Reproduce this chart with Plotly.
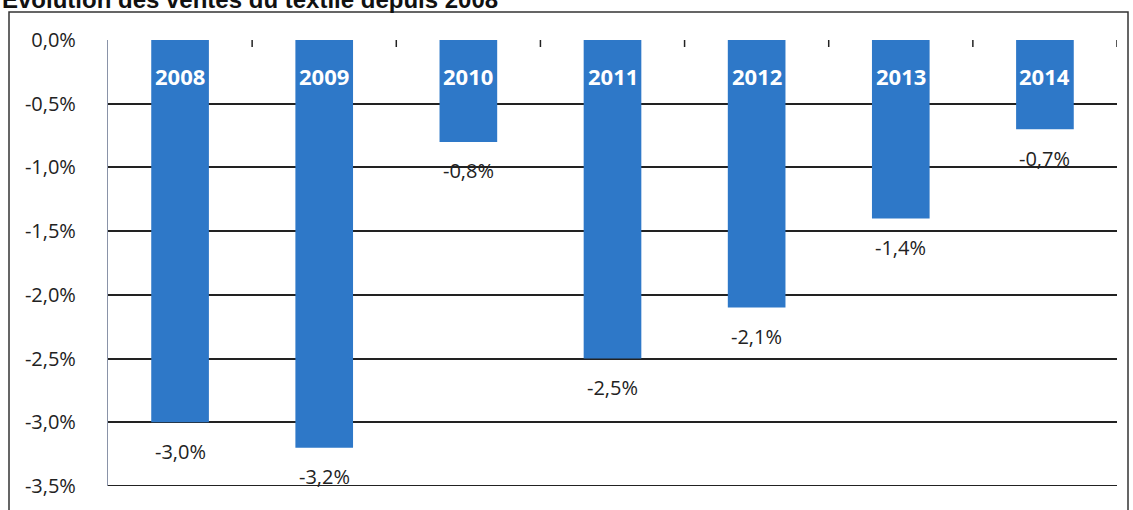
import plotly.graph_objects as go

years = ["2008", "2009", "2010", "2011", "2012", "2013", "2014"]
values = [-3.0, -3.2, -0.8, -2.5, -2.1, -1.4, -0.7]
value_labels = ["-3,0%", "-3,2%", "-0,8%", "-2,5%", "-2,1%", "-1,4%", "-0,7%"]
tick_vals = [0.0, -0.5, -1.0, -1.5, -2.0, -2.5, -3.0, -3.5]
tick_text = ["0,0%", "-0,5%", "-1,0%", "-1,5%", "-2,0%", "-2,5%", "-3,0%", "-3,5%"]
title = "Evolution des ventes du textile depuis 2008"

W, H = 1133, 510
L, R, T, B = 108, 16, 40, 24
ph = H - T - B

blue = "#2E78C8"
font_fam = "Open Sans, Liberation Sans, Arial, sans-serif"

fig = go.Figure()
fig.add_trace(go.Bar(x=years, y=values, marker=dict(color=blue, line=dict(width=0)),
                     width=0.4, hoverinfo="skip"))

annotations = []
for i, (yr, v, lab) in enumerate(zip(years, values, value_labels)):
    annotations.append(dict(x=i, y=0, xref="x", yref="y", text="<b>" + yr + "</b>", showarrow=False,
                            yanchor="middle", yshift=-36,
                            font=dict(family=font_fam, size=22, color="white")))
    annotations.append(dict(x=i, y=v, xref="x", yref="y", text=lab, showarrow=False,
                            yanchor="middle", yshift=-29,
                            font=dict(family=font_fam, size=20, color="#222222")))

annotations.append(dict(x=-L / (W - L - R), y=1 + (T + 1) / ph, xref="paper", yref="paper",
                        xanchor="left", yanchor="middle", text="<b>" + title + "</b>", showarrow=False,
                        font=dict(family="Liberation Sans, Arial, sans-serif", size=24, color="#111111")))

def px_x(p):
    return (p - L) / (W - L - R)

def px_y(p):
    return (H - B - p) / ph

shapes = [dict(type="rect", xref="paper", yref="paper",
               x0=px_x(9), x1=px_x(1128), y0=px_y(530), y1=px_y(12),
               line=dict(color="#333333", width=1.5), fillcolor="rgba(0,0,0,0)", layer="below"),
          dict(type="line", xref="paper", yref="y", x0=0, x1=1, y0=tick_vals[-1], y1=tick_vals[-1],
               line=dict(color="#222222", width=2))]

fig.update_layout(
    width=W, height=H,
    margin=dict(l=L, r=R, t=T, b=B),
    plot_bgcolor="white", paper_bgcolor="white",
    showlegend=False,
    annotations=annotations,
    shapes=shapes,
    xaxis=dict(type="category", showticklabels=False, showgrid=False, zeroline=False, showline=False,
               range=[-0.5, 6.5], fixedrange=True),
    yaxis=dict(range=[-3.5, 0], tickvals=tick_vals, ticktext=tick_text,
               showgrid=True, gridcolor="#222222", gridwidth=2,
               zeroline=False, showline=True, linecolor="#8a93a8", linewidth=1.2,
               ticks="", ticklabelstandoff=27,
               tickfont=dict(family=font_fam, size=20, color="#222222")),
)

for i in range(1, 8):
    fig.add_shape(type="line", xref="x", yref="paper", x0=i - 0.5, x1=i - 0.5,
                  y0=1, y1=1 - 7 / ph, line=dict(color="#222222", width=1.5))

fig.write_html("out.html", config={"displayModeBar": False},
               post_script="document.body.style.margin='0';")
